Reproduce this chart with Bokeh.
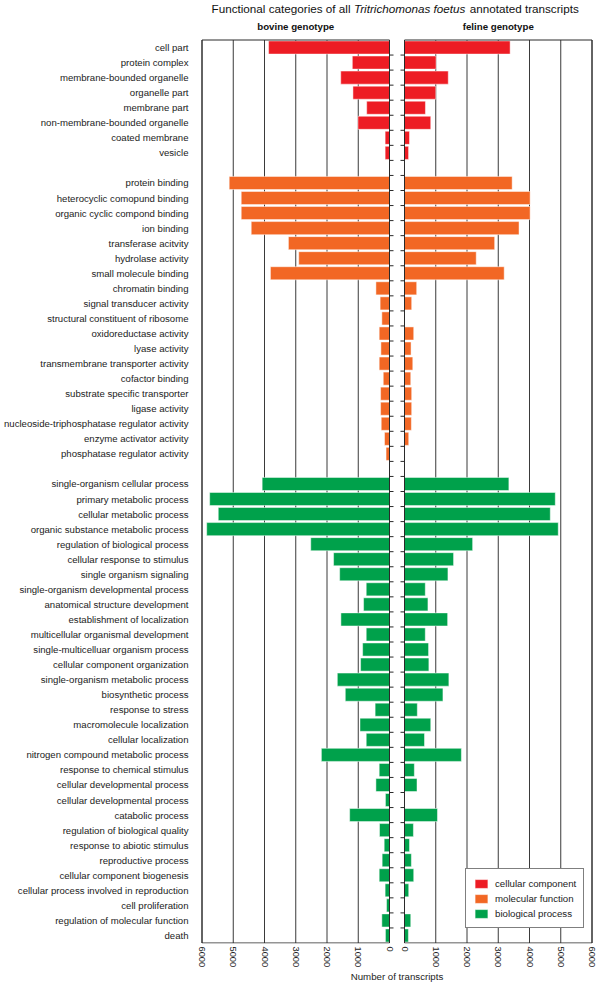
import math
from bokeh.plotting import figure
from bokeh.models import Range1d, FixedTicker, Legend, LegendItem, ColumnDataSource
from bokeh.core.properties import value
from bokeh.embed import file_html
from bokeh.resources import INLINE

# ---------------- data ----------------
cc_labels = ["cell part", "protein complex", "membrane-bounded organelle", "organelle part",
             "membrane part", "non-membrane-bounded organelle", "coated membrane", "vesicle"]
cc_bovine = [3870, 1190, 1560, 1170, 730, 1010, 140, 140]
cc_feline = [3380, 1010, 1400, 1000, 670, 840, 160, 130]

mf_labels = ["protein binding", "heterocyclic comopund binding", "organic cyclic compond binding",
             "ion binding", "transferase acitvity", "hydrolase activity", "small molecule binding",
             "chromatin binding", "signal transducer activity", "structural constituent of ribosome",
             "oxidoreductase activity", "lyase activity", "transmembrane transporter activity",
             "cofactor binding", "substrate specific transporter", "ligase activity",
             "nucleoside-triphosphatase regulator activity", "enzyme activator activity",
             "phosphatase regulator activity"]
mf_bovine = [5130, 4745, 4745, 4425, 3235, 2905, 3810, 435, 300, 245, 330, 275, 330, 200, 285,
             285, 265, 160, 110]
mf_feline = [3445, 4020, 4020, 3665, 2885, 2295, 3190, 390, 230, 0, 295, 210, 265, 200, 230,
             230, 220, 135, 0]

bp_labels = ["single-organism cellular process", "primary metabolic process",
             "cellular metabolic process", "organic substance metabolic process",
             "regulation of biological process", "cellular response to stimulus",
             "single organism signaling", "single-organism developmental process",
             "anatomical structure development", "establishment of localization",
             "multicellular organismal development", "single-multicelluar organism process",
             "cellular component organization", "single-organism metabolic process",
             "biosynthetic process", "response to stress", "macromolecule localization",
             "cellular localization", "nitrogen compound metabolic process",
             "response to chemical stimulus", "cellular developmental process",
             "cellular developmental process", "catabolic process",
             "regulation of biological quality", "response to abiotic stimulus",
             "reproductive process", "cellular component biogenesis",
             "cellular process involved in reproduction", "cell proliferation",
             "regulation of molecular function", "death"]
bp_bovine = [4075, 5755, 5480, 5850, 2520, 1790, 1595, 745, 830, 1555, 745, 860, 925, 1670,
             1415, 460, 945, 745, 2180, 330, 435, 130, 1275, 320, 170, 235, 330, 140, 95, 245, 130]
bp_feline = [3340, 4825, 4665, 4920, 2180, 1570, 1390, 665, 750, 1380, 665, 770, 780, 1420,
             1230, 410, 840, 640, 1820, 315, 400, 0, 1055, 285, 160, 220, 295, 135, 0, 200, 125]

group_names = ["cellular component", "molecular function", "biological process"]
group_colors = ["#ED1C24", "#F26724", "#00A14B"]
tick_values = [0, 1000, 2000, 3000, 4000, 5000, 6000]
panel_titles = ["bovine genotype", "feline genotype"]
title_parts = ["Functional categories of all", "Tritrichomonas foetus", "annotated transcripts"]

# ---------------- layout ----------------
W, H = 600, 986
BL, BR, BT, BB = 199, 6, 0, 43
FONT = "Liberation Sans"
FS = "9.6px"
XMAX = 6000
PX = 32                      # data units per screen pixel
HALF = int(7.5 * PX)         # half of the gap between the two panels
CX = (BL + W - BR) / 2       # screen x of the gap centre
ROW_TOP = 39.5               # screen y of the first row's top edge
ROW_PX = 15.05               # row pitch in pixels


def sy(screen_y):
    return -0.5 + (screen_y - ROW_TOP) / ROW_PX


def sx(screen_x):
    return (screen_x - CX) * PX


groups = [(cc_labels, cc_bovine, cc_feline), (mf_labels, mf_bovine, mf_feline),
          (bp_labels, bp_bovine, bp_feline)]
row_y = []
pos = 0
for labels, _, _ in groups:
    row_y.append(list(range(pos, pos + len(labels))))
    pos += len(labels) + 1
n_rows = pos - 1

xr = Range1d(sx(BL), sx(W - BR))
yr = Range1d(sy(H - BB), sy(BT))

p = figure(width=W, height=H, x_range=xr, y_range=yr, output_backend="svg",
           toolbar_location=None, title=None, min_border_left=BL, min_border_right=BR,
           min_border_top=BT, min_border_bottom=BB)
p.outline_line_color = None
p.background_fill_color = "white"
p.border_fill_color = "white"
p.xgrid.grid_line_color = None
p.ygrid.grid_line_color = None

L0, L1, R0, R1 = -(XMAX + HALF), -HALF, HALF, XMAX + HALF
top, bot = -0.5, n_rows - 0.5
tick_pos = [-HALF - v for v in tick_values[::-1]] + [HALF + v for v in tick_values]
tick_txt = {(-HALF - v): str(v) for v in tick_values}
tick_txt.update({(HALF + v): str(v) for v in tick_values})

# x axis (two mirrored scales)
xa = p.xaxis[0]
xa.ticker = FixedTicker(ticks=tick_pos)
xa.major_label_overrides = tick_txt
xa.major_label_orientation = -math.pi / 2
xa.axis_line_color = None
xa.major_tick_line_color = None
xa.minor_tick_line_color = None
xa.major_tick_out = 0
xa.major_tick_in = 0
xa.minor_tick_out = 0
xa.minor_tick_in = 0
xa.major_label_standoff = 3
xa.major_label_text_font = FONT
xa.major_label_text_font_size = "9.3px"
xa.major_label_text_color = "#222222"
xa.axis_label = "Number of transcripts"
xa.axis_label_text_font = FONT
xa.axis_label_text_font_size = "9.7px"
xa.axis_label_text_font_style = "normal"
xa.axis_label_text_color = "#222222"
xa.axis_label_standoff = 1

# y axis: category names
ya = p.yaxis[0]
all_y = [y for ys in row_y for y in ys]
all_lab = [l for g in groups for l in g[0]]
ya.ticker = FixedTicker(ticks=all_y)
ya.major_label_overrides = {y: l for y, l in zip(all_y, all_lab)}
ya.axis_line_color = None
ya.major_tick_line_color = None
ya.minor_tick_line_color = None
ya.major_tick_out = 0
ya.major_tick_in = 0
ya.minor_tick_out = 0
ya.minor_tick_in = 0
ya.major_label_standoff = 11
ya.major_label_text_font = FONT
ya.major_label_text_font_size = FS
ya.major_label_text_color = "#222222"

# vertical grid lines inside the panels
p.segment(x0=tick_pos, y0=[top] * len(tick_pos), x1=tick_pos, y1=[bot] * len(tick_pos),
          line_color="#3a3a3a", line_width=1)

BAR_H = 0.87
legend_items = []
for (labels, bov, fel), ys, name, col in zip(groups, row_y, group_names, group_colors):
    src_b = ColumnDataSource(dict(y=ys, left=[-HALF - v for v in bov], right=[-HALF] * len(ys)))
    src_f = ColumnDataSource(dict(y=ys, left=[HALF] * len(ys), right=[HALF + v for v in fel]))
    rb = p.hbar(y="y", left="left", right="right", height=BAR_H, source=src_b,
                fill_color=col, line_color="white", line_alpha=0.6, line_width=0.8)
    p.hbar(y="y", left="left", right="right", height=BAR_H, source=src_f,
           fill_color=col, line_color="white", line_alpha=0.6, line_width=0.8)
    legend_items.append(LegendItem(label=name, renderers=[rb]))

# panel frames (drawn above bars)
p.segment(x0=[L0, L1, R0, R1, L0, L0, R0, R0], y0=[top, top, top, top, top, bot, top, bot],
          x1=[L0, L1, R0, R1, L1, L1, R1, R1], y1=[bot, bot, bot, bot, top, bot, top, bot],
          line_color="#2a2a2a", line_width=1)

# small ticks on the inner edges at row boundaries
tk = 4 * PX
bnd = [i + 0.5 for i in range(n_rows - 1)]
p.segment(x0=[L1] * len(bnd) + [R0 - tk] * len(bnd), y0=bnd + bnd,
          x1=[L1 + tk] * len(bnd) + [R0] * len(bnd), y1=bnd + bnd,
          line_color="#2a2a2a", line_width=1)

legend = Legend(items=legend_items, location=(266, 15))
legend.border_line_color = "black"
legend.border_line_width = 1
legend.background_fill_color = "white"
legend.background_fill_alpha = 1
legend.label_text_font = FONT
legend.label_text_font_size = "9.7px"
legend.label_text_color = "#222222"
legend.glyph_width = 16
legend.glyph_height = 11
legend.label_standoff = 6
legend.padding = 7
legend.spacing = 1
legend.margin = 0
legend.label_height = 14
p.add_layout(legend)

# title in three pieces (species name in italics); widths in em of Arial-metric text
FS_T = 11.7
em = [11.894, 9.614, 9.338]
sp = 0.278
x_start = 211
xs = [x_start, x_start + (em[0] + sp) * FS_T, x_start + (em[0] + sp + em[1] + sp) * FS_T]
styles = ["normal", "italic", "normal"]
for txt, xx, st in zip(title_parts, xs, styles):
    p.text(x=[sx(xx)], y=[sy(7.5)], text=[txt], text_font=value(FONT),
           text_font_size=value(f"{FS_T}px"), text_font_style=value(st),
           text_baseline=value("middle"), text_align=value("left"), text_color="#111111")

# panel headings
p.text(x=[-(HALF + XMAX / 2), HALF + XMAX / 2], y=[sy(25.5)] * 2, text=panel_titles,
       text_font=value(FONT), text_font_size=value("9.7px"), text_font_style=value("bold"),
       text_baseline=value("middle"), text_align=value("center"), text_color="#111111")

open("out.html", "w").write(file_html(p, INLINE))
